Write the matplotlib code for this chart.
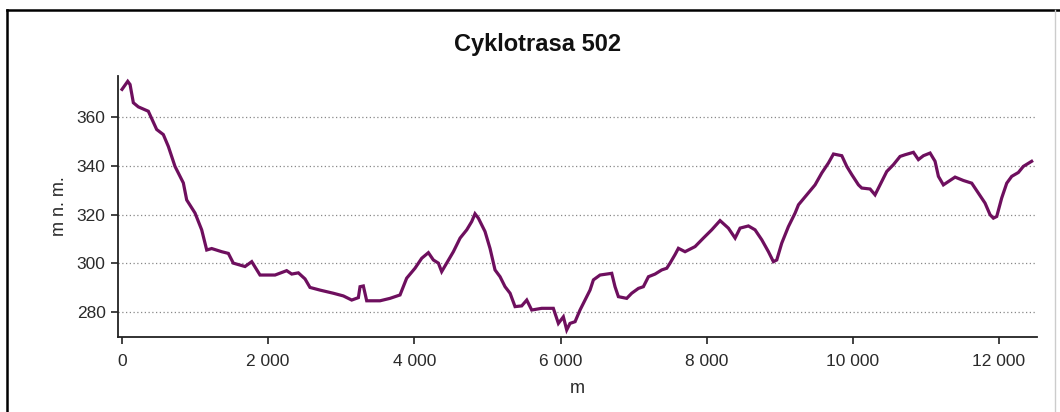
import numpy as np
import matplotlib.pyplot as plt
from matplotlib.lines import Line2D
from matplotlib.ticker import FuncFormatter, MultipleLocator

plt.rcParams['font.family'] = ['Liberation Sans', 'DejaVu Sans']

distance_m = [0, 78, 110, 155, 223, 360, 474, 565, 634, 725, 839, 885, 999, 1090,
              1159, 1227, 1364, 1455, 1523, 1683, 1775, 1888, 2094, 2253, 2322,
              2413, 2504, 2572, 2709, 2892, 3029, 3143, 3234, 3257, 3302, 3348,
              3530, 3667, 3804, 3895, 4009, 4101, 4192, 4260, 4329, 4374, 4443,
              4534, 4626, 4717, 4785, 4830, 4876, 4967, 5036, 5104, 5173, 5241,
              5310, 5378, 5469, 5538, 5606, 5743, 5902, 5971, 6039, 6085, 6130,
              6199, 6267, 6336, 6404, 6450, 6541, 6701, 6746, 6792, 6906, 6974,
              7066, 7134, 7203, 7294, 7385, 7454, 7499, 7567, 7613, 7704, 7841,
              7955, 8069, 8183, 8297, 8389, 8457, 8571, 8662, 8754, 8845, 8913,
              8959, 9027, 9118, 9210, 9256, 9370, 9483, 9575, 9666, 9735, 9849,
              9917, 9986, 10077, 10122, 10236, 10304, 10373, 10464, 10555, 10646,
              10715, 10829, 10897, 10966, 11057, 11125, 11171, 11239, 11308, 11399,
              11513, 11627, 11718, 11809, 11878, 11923, 11969, 12037, 12106, 12174,
              12265, 12333, 12447]
elevation = [371.5, 374.8, 373.5, 366, 364.3, 362.5, 355, 352.9, 348, 339.8, 333,
             326, 320.6, 313.7, 305.4, 306, 304.7, 304, 300, 298.6, 300.6, 295.1,
             295.1, 296.9, 295.5, 296, 293.5, 290, 288.9, 287.6, 286.5, 284.8,
             285.8, 290.3, 290.6, 284.5, 284.5, 285.5, 286.9, 293.8, 297.9, 302,
             304.3, 301.3, 300, 296.5, 300, 304.7, 310.3, 313.7, 317.1, 320.3,
             318.5, 313, 306, 297.2, 294.4, 290.3, 287.6, 282.1, 282.4, 284.8,
             280.7, 281.4, 281.4, 275.2, 277.9, 272.5, 275.2, 275.9, 280.7, 284.8,
             288.9, 293.1, 295.1, 295.8, 290.3, 286.2, 285.5, 287.6, 289.6, 290.3,
             294.4, 295.5, 297.2, 297.9, 300, 303.5, 306.1, 304.7, 306.8, 310.3,
             313.7, 317.5, 314.4, 310.3, 314.4, 315.3, 313.7, 309.6, 304.7, 300.6,
             301.3, 308.2, 315, 320.6, 324, 328.1, 332.2, 337.1, 341.2, 344.9,
             344.2, 339.8, 336.4, 332.2, 330.9, 330.5, 328.1, 332.2, 337.7, 340.5,
             343.9, 344.6, 345.6, 342.6, 344.2, 345.3, 341.9, 335.7, 332.2, 333.6,
             335.4, 334, 332.9, 328.8, 324.7, 319.9, 318.5, 319.2, 326.8, 332.9,
             335.7, 337.3, 339.8, 341.9]

fig = plt.figure(figsize=(10.6, 4.12), dpi=100)
ax = fig.add_axes([118 / 1060, 75 / 412, 919 / 1060, 261 / 412])

ax.plot(distance_m, elevation, color='#6e0f5e', linewidth=2.3, solid_joinstyle='miter')

ax.set_xlim(-55, 12520)
ax.set_ylim(269.6, 377)
ax.xaxis.set_major_locator(MultipleLocator(2000))
ax.set_yticks([280, 300, 320, 340, 360])
ax.xaxis.set_major_formatter(FuncFormatter(lambda v, p: f'{int(v):,}'.replace(',', ' ')))

ax.grid(axis='y', linestyle=(0, (1, 2)), color='#888888', linewidth=0.9)
ax.set_axisbelow(True)
for side in ['top', 'right']:
    ax.spines[side].set_visible(False)
for side in ['left', 'bottom']:
    ax.spines[side].set_linewidth(1.3)
    ax.spines[side].set_color('#222222')
ax.tick_params(length=5, width=1.2, color='#222222', labelsize=12.5,
               labelcolor='#2a2a2a')
ax.tick_params(axis='x', pad=7)
ax.tick_params(axis='y', pad=4)

fig.text(538 / 1060, 1 - 45 / 412, 'Cyklotrasa 502', fontsize=17, fontweight='bold',
         ha='center', va='center', color='#111111')
ax.set_xlabel('m', fontsize=13, labelpad=8, color='#2a2a2a')
ax.set_ylabel('m n. m.', fontsize=13, labelpad=6, color='#2a2a2a')

# frame of the original picture
fig.add_artist(Line2D([7 / 1060, 1], [1 - 10 / 412, 1 - 10 / 412], color='black', linewidth=1.8))
fig.add_artist(Line2D([7 / 1060, 7 / 1060], [0, 1 - 10 / 412], color='black', linewidth=1.8))
fig.add_artist(Line2D([1055 / 1060, 1055 / 1060], [0, 1 - 10 / 412], color='#cccccc', linewidth=1))

fig.savefig('out.png', dpi=100)
